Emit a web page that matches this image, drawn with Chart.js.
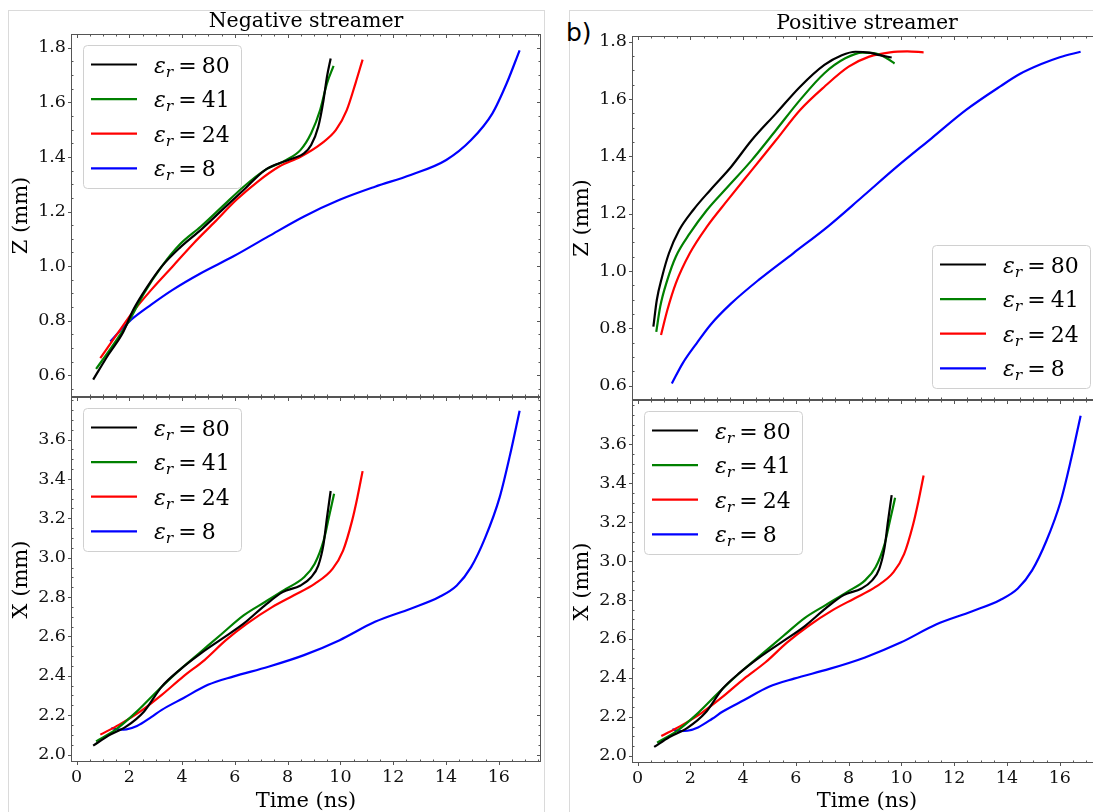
<!DOCTYPE html>
<html><head><meta charset="utf-8">
<script src="https://cdn.jsdelivr.net/npm/chart.js@4/dist/chart.umd.min.js"></script>
<style>
html,body{margin:0;padding:0;background:#fff;overflow:hidden;width:1093px;height:812px;position:relative;}
canvas{position:absolute;}
.frame{position:absolute;border:1px solid #dadada;box-sizing:border-box;}
#blabel{position:absolute;left:566px;top:18px;font-family:'DejaVu Sans',sans-serif;font-size:25px;line-height:30px;color:#000;}
</style></head><body>
<div class="frame" style="left:8px;top:10px;width:537px;height:830px"></div>
<div class="frame" style="left:569px;top:10px;width:600px;height:830px"></div>
<div id="blabel">b)</div>
<canvas id="c1" width="545" height="397" style="left:0;top:0"></canvas>
<canvas id="c2" width="545" height="415" style="left:0;top:397px"></canvas>
<canvas id="c3" width="545" height="400" style="left:560px;top:0"></canvas>
<canvas id="c4" width="545" height="412" style="left:560px;top:400px"></canvas>
<script>
// ---------- data ----------
const epsLabels = ['80', '41', '24', '8'];
const seriesColors = ['#000000', '#008000', '#ff0000', '#0000ff'];
const timeTicks = [0, 2, 4, 6, 8, 10, 12, 14, 16];
const zTicks = [0.6, 0.8, 1.0, 1.2, 1.4, 1.6, 1.8];
const xTicks = [2.0, 2.2, 2.4, 2.6, 2.8, 3.0, 3.2, 3.4, 3.6];

// Negative streamer, Z (mm)
const negZ_t80 = [0.63,1.21,1.75,2.15,2.69,3.23,3.9,4.71,5.52,6.33,7.14,7.68,8.22,8.62,8.89,9.16,9.36,9.49,9.63];
const negZ_v80 = [0.584,0.676,0.755,0.84,0.926,0.999,1.066,1.133,1.206,1.279,1.352,1.377,1.395,1.413,1.444,1.511,1.609,1.694,1.761];
const negZ_t41 = [0.74,1.35,2.02,2.56,3.23,3.9,4.71,5.52,6.33,7.14,7.95,8.49,8.89,9.23,9.49,9.74];
const negZ_v41 = [0.623,0.706,0.804,0.901,0.999,1.078,1.145,1.218,1.291,1.352,1.389,1.426,1.487,1.572,1.67,1.734];
const negZ_t24 = [0.9,1.48,2.15,2.83,3.64,4.44,5.25,6.06,6.87,7.68,8.49,9.29,9.83,10.24,10.57,10.84];
const negZ_v24 = [0.663,0.743,0.834,0.913,0.999,1.084,1.163,1.243,1.31,1.365,1.401,1.45,1.499,1.572,1.67,1.757];
const negZ_t8 = [1.28,1.75,2.15,2.83,3.64,4.71,5.93,7.27,8.62,9.97,11.31,12.66,14.01,14.95,15.76,16.3,16.79];
const negZ_v8 = [0.724,0.773,0.81,0.859,0.913,0.974,1.035,1.109,1.182,1.243,1.291,1.334,1.389,1.462,1.56,1.67,1.791];

// Positive streamer, Z (mm)
const posZ_t80 = [0.6,0.73,0.93,1.19,1.58,2.11,2.76,3.55,4.33,5.25,6.16,7.08,7.74,8.26,8.78,9.18,9.63];
const posZ_v80 = [0.806,0.899,0.98,1.062,1.143,1.213,1.283,1.364,1.457,1.55,1.643,1.719,1.753,1.765,1.762,1.753,1.745];
const posZ_t41 = [0.71,0.86,1.13,1.45,1.98,2.63,3.42,4.33,5.25,6.16,7.08,7.87,8.52,9.04,9.44,9.74];
const posZ_v41 = [0.788,0.876,0.969,1.05,1.131,1.213,1.294,1.387,1.492,1.597,1.69,1.742,1.762,1.759,1.742,1.724];
const posZ_t24 = [0.89,1.13,1.45,1.98,2.63,3.42,4.33,5.25,6.16,7.08,8.0,8.78,9.57,10.22,10.84];
const posZ_v24 = [0.777,0.864,0.957,1.062,1.155,1.248,1.352,1.457,1.562,1.643,1.713,1.748,1.763,1.766,1.763];
const posZ_t8 = [1.3,1.71,2.24,2.76,3.55,4.59,5.9,7.21,8.52,9.83,11.14,12.45,13.76,14.5,15.3,16.0,16.79];
const posZ_v8 = [0.608,0.678,0.748,0.812,0.887,0.969,1.062,1.155,1.259,1.364,1.463,1.562,1.645,1.688,1.722,1.746,1.765];

// X (mm) — same in both lower panels
const X_t80 = [0.63,1.21,1.89,2.56,3.23,3.9,4.71,5.52,6.33,7.14,7.81,8.49,8.89,9.16,9.36,9.49,9.63];
const X_v80 = [2.045,2.096,2.143,2.219,2.345,2.429,2.514,2.589,2.665,2.758,2.825,2.859,2.901,2.96,3.069,3.204,3.339];
const X_t41 = [0.74,1.48,2.29,3.1,3.9,4.71,5.52,6.33,7.14,7.95,8.62,9.02,9.36,9.56,9.76];
const X_v41 = [2.067,2.126,2.219,2.328,2.429,2.522,2.615,2.707,2.775,2.842,2.901,2.968,3.086,3.204,3.325];
const X_t24 = [0.9,1.62,2.42,3.23,4.04,4.85,5.66,6.46,7.41,8.22,9.02,9.7,10.1,10.44,10.64,10.84];
const X_v24 = [2.101,2.152,2.219,2.303,2.396,2.48,2.581,2.665,2.749,2.808,2.867,2.943,3.036,3.187,3.305,3.44];
const X_t8 = [1.32,1.62,1.89,2.29,2.83,3.23,4.04,4.98,5.93,7.27,8.62,9.97,11.31,12.66,13.74,14.41,14.95,15.49,16.03,16.43,16.79];
const X_v8 = [2.135,2.126,2.128,2.145,2.19,2.227,2.286,2.354,2.396,2.446,2.505,2.581,2.674,2.741,2.8,2.859,2.952,3.103,3.305,3.524,3.747];

// ---------- helpers ----------
const SERIF = "'DejaVu Serif', serif";
Chart.defaults.font.family = SERIF;
Chart.defaults.color = '#111';

const zip = (t, v) => t.map((x, i) => ({x: x, y: v[i]}));
function makeDatasets(pairs) {
  return pairs.map((p, i) => ({
    label: 'ε_r = ' + epsLabels[i],
    eps: epsLabels[i],
    data: zip(p[0], p[1]),
    borderColor: seriesColors[i],
    backgroundColor: seriesColors[i],
    borderWidth: 2.2,
    pointRadius: 0,
    fill: false,
    cubicInterpolationMode: 'monotone'
  }));
}

function minorTicks(majors, min, max) {
  const ms = (majors[1] - majors[0]) / 4;
  const out = [];
  for (let k = Math.ceil(min / ms - 1e-6); k * ms <= max + 1e-9; k++) {
    const v = k * ms;
    if (v < min || v > max) continue;
    if (majors.some(m => Math.abs(m - v) < ms / 10)) continue;
    out.push(v);
  }
  return out;
}

const mplPlugin = {
  id: 'mpl',
  afterDatasetsDraw(chart, args, opts) {
    const {ctx, chartArea: ca} = chart;
    const xs = chart.scales.x, ys = chart.scales.y;
    const L = Math.round(ca.left) + 0.5, R = Math.round(ca.right) - 0.5;
    const T = Math.round(ca.top) + 0.5, B = Math.round(ca.bottom) - 0.5;
    ctx.save();
    ctx.strokeStyle = '#555555';
    ctx.lineWidth = 1;
    ctx.strokeRect(L, T, R - L, B - T);
    const maj = 3.5, mn = 2;
    ctx.beginPath();
    opts.xMajors.forEach(v => {
      const p = Math.round(xs.getPixelForValue(v)) + 0.5;
      ctx.moveTo(p, B); ctx.lineTo(p, B + maj);
      ctx.moveTo(p, T); ctx.lineTo(p, T + maj);
    });
    minorTicks(opts.xMajors, xs.min, xs.max).forEach(v => {
      const p = Math.round(xs.getPixelForValue(v)) + 0.5;
      ctx.moveTo(p, B); ctx.lineTo(p, B - mn);
      ctx.moveTo(p, T); ctx.lineTo(p, T + mn);
    });
    opts.yMajors.forEach(v => {
      const p = Math.round(ys.getPixelForValue(v)) + 0.5;
      ctx.moveTo(L, p); ctx.lineTo(L - maj, p);
      ctx.moveTo(R, p); ctx.lineTo(R - maj, p);
    });
    minorTicks(opts.yMajors, ys.min, ys.max).forEach(v => {
      const p = Math.round(ys.getPixelForValue(v)) + 0.5;
      ctx.moveTo(L, p); ctx.lineTo(L + mn, p);
      ctx.moveTo(R, p); ctx.lineTo(R - mn, p);
    });
    ctx.stroke();

    // legend (matplotlib style)
    const w = 158, h = 143;
    const x0 = opts.legendCorner === 'ul' ? ca.left + 12 : ca.right - 12 - w;
    const y0 = opts.legendCorner === 'ul' ? ca.top + 11 : ca.bottom - 12 - h;
    ctx.beginPath();
    if (ctx.roundRect) ctx.roundRect(x0 + 0.5, y0 + 0.5, w, h, 4); else ctx.rect(x0 + 0.5, y0 + 0.5, w, h);
    ctx.fillStyle = 'rgba(255,255,255,0.8)';
    ctx.fill();
    ctx.strokeStyle = '#d0d0d0';
    ctx.stroke();
    chart.data.datasets.forEach((ds, i) => {
      const ry = y0 + 19.5 + i * 34.6;
      ctx.beginPath();
      ctx.strokeStyle = ds.borderColor;
      ctx.lineWidth = 2.2;
      ctx.moveTo(x0 + 8, ry); ctx.lineTo(x0 + 54, ry);
      ctx.stroke();
      const base = ry + 8;
      let tx = x0 + 71;
      ctx.fillStyle = '#000';
      ctx.textBaseline = 'alphabetic';
      ctx.textAlign = 'left';
      ctx.font = 'italic 22px ' + SERIF;
      ctx.fillText('ε', tx, base);
      tx += ctx.measureText('ε').width;
      ctx.font = 'italic 15.5px ' + SERIF;
      ctx.fillText('r', tx, base + 4);
      tx += ctx.measureText('r').width + 5;
      ctx.font = '22px ' + SERIF;
      ctx.fillText('=', tx, base);
      tx += ctx.measureText('=').width + 5;
      ctx.fillText(ds.eps, tx, base);
    });
    ctx.restore();
  }
};

function yScale(min, max, ticks, title, width, titlePad) {
  return {
    type: 'linear', min: min, max: max,
    afterBuildTicks: s => { s.ticks = ticks.map(v => ({value: v})); },
    afterFit: s => { s.width = width; s.paddingTop = 0; s.paddingBottom = 0; },
    grid: {display: false, drawTicks: false},
    border: {display: false},
    ticks: {padding: 5, color: '#111', font: {size: 17.5}, callback: v => Number(v).toFixed(1)},
    title: {display: true, text: title, color: '#000', font: {size: 21, lineHeight: 1.2}, padding: {top: titlePad, bottom: 0}}
  };
}
function xScaleBottom(min, max, height) {
  return {
    type: 'linear', min: min, max: max,
    afterBuildTicks: s => { s.ticks = timeTicks.map(v => ({value: v})); },
    afterFit: s => { s.height = height; s.paddingLeft = 0; s.paddingRight = 0; },
    grid: {display: false, drawTicks: false},
    border: {display: false},
    ticks: {padding: 5, color: '#111', font: {size: 17.5}, maxRotation: 0, autoSkip: false, callback: v => String(v)},
    title: {display: true, text: 'Time (ns)', color: '#000', font: {size: 21, lineHeight: 1}, padding: {top: 0, bottom: 0}}
  };
}
function xScaleHidden(min, max) {
  return {type: 'linear', min: min, max: max, display: false};
}

function makeChart(id, datasets, scales, yMajors, titleCfg, padding, legendCorner) {
  return new Chart(document.getElementById(id), {
    type: 'line',
    data: {datasets: datasets},
    options: {
      responsive: false, animation: false, devicePixelRatio: 1,
      layout: {padding: padding},
      scales: scales,
      plugins: {
        legend: {display: false},
        tooltip: {enabled: false},
        title: titleCfg,
        mpl: {xMajors: timeTicks, yMajors: yMajors, legendCorner: legendCorner}
      }
    },
    plugins: [mplPlugin]
  });
}

const XMIN = -0.21, XMAX = 17.6;

// top-left: Negative streamer Z
makeChart('c1',
  makeDatasets([[negZ_t80, negZ_v80], [negZ_t41, negZ_v41], [negZ_t24, negZ_v24], [negZ_t8, negZ_v8]]),
  {x: xScaleHidden(XMIN, XMAX), y: yScale(0.5203, 1.8507, zTicks, 'Z (mm)', 71, 9)}, zTicks,
  {display: true, fullSize: false, text: 'Negative streamer', color: '#000', font: {size: 20.5, weight: 'normal', lineHeight: 1.2}, padding: {top: 9.2, bottom: 0.2}},
  {left: 0, right: 4, top: 0, bottom: 0}, 'ul');

// bottom-left: Negative streamer X
makeChart('c2',
  makeDatasets([[X_t80, X_v80], [X_t41, X_v41], [X_t24, X_v24], [X_t8, X_v8]]),
  {x: xScaleBottom(XMIN, XMAX, 50), y: yScale(1.962, 3.8165, xTicks, 'X (mm)', 71, 9)}, xTicks,
  {display: false}, {left: 0, right: 4, top: 0, bottom: 0}, 'ul');

// top-right: Positive streamer Z
makeChart('c3',
  makeDatasets([[posZ_t80, posZ_v80], [posZ_t41, posZ_v41], [posZ_t24, posZ_v24], [posZ_t8, posZ_v8]]),
  {x: xScaleHidden(XMIN, XMAX), y: yScale(0.5501, 1.8199, zTicks, 'Z (mm)', 72, 10)}, zTicks,
  {display: true, fullSize: false, text: 'Positive streamer', color: '#000', font: {size: 20.5, weight: 'normal', lineHeight: 1.2}, padding: {top: 11.2, bottom: 0.2}},
  {left: 0, right: 3, top: 0, bottom: 0}, 'lr');

// bottom-right: Positive streamer X
makeChart('c4',
  makeDatasets([[X_t80, X_v80], [X_t41, X_v41], [X_t24, X_v24], [X_t8, X_v8]]),
  {x: xScaleBottom(XMIN, XMAX, 49), y: yScale(1.9625, 3.8275, xTicks, 'X (mm)', 72, 10)}, xTicks,
  {display: false}, {left: 0, right: 3, top: 0, bottom: 0}, 'ul');
</script>
</body></html>
